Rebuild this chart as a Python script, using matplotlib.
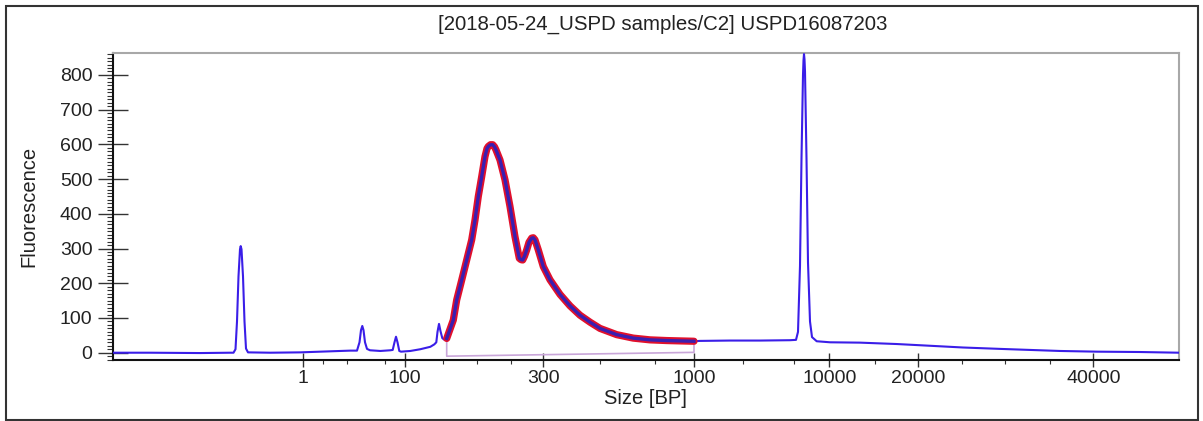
import matplotlib
matplotlib.use("Agg")
import matplotlib.pyplot as plt
import numpy as np
from matplotlib.ticker import FixedLocator
from matplotlib.patches import Rectangle

plt.rcParams['font.family'] = ['Liberation Sans', 'DejaVu Sans']

# ---------------- data ----------------
title = "[2018-05-24_USPD samples/C2] USPD16087203"
x_label = "Size [BP]"
y_label = "Fluorescence"

# x axis: migration position (arbitrary units), labelled with ladder sizes
x_tick_pos = [190, 292, 430, 581, 716, 805, 980]
x_tick_labels = ["1", "100", "300", "1000", "10000", "20000", "40000"]
x_minor_pos = [210, 234, 272, 330, 364, 398, 487, 542, 630, 681, 762, 849, 892, 937]

y_ticks = [0, 100, 200, 300, 400, 500, 600, 700, 800]
y_minor = list(range(-20, 861, 10))

# electropherogram trace: position -> fluorescence
trace_pos = [0.7, 37, 87, 117, 120.2, 122.2, 123.7, 125.2, 126.7, 127.4, 128.2, 129.7, 131.2,
             132.7, 134.7, 157, 187, 217, 237, 243.7, 246.2, 247.7, 249, 250.2, 251.7, 253.7,
             256.7, 267, 277, 279.4, 281.2, 282.7, 284.2, 286, 287.7, 297, 307, 317, 321, 323,
             324.2, 325.7, 327.2, 329, 330.7, 333.4, 340, 343.4, 348.4, 353.4, 358.4, 361.7,
             365, 368.4, 371.7, 373.7, 375, 377.2, 379.4, 381.2, 382.7, 386.7, 391.7, 396.7,
             401.7, 406, 407.7, 409.4, 411.2, 413.4, 415.7, 418.4, 420, 421.7, 425, 430, 436.7,
             446.7, 456.7, 466.7, 476.7, 486.7, 503.4, 520, 536.7, 553.4, 566.7, 580.7,
             586.7, 616.7, 646.7, 676.7, 682.7, 684.7, 686.7, 688.2, 689.7, 690.2, 690.7,
             691.2, 691.7, 693.2, 694.7, 696.7, 698.7, 703.4, 716.7, 746.7,
             783.4, 816.7, 849.7, 886.7, 916.7, 946.7, 983.7, 1026.7, 1065.7]
trace_val = [0, 0, -1, 0, 0, 10, 90, 220, 298, 307, 298, 220, 90,
             12, 1, 0, 1, 4, 6, 6, 30, 65, 77, 65, 30, 11,
             7, 5, 7, 8, 30, 46, 30, 5, 3, 5, 10, 17, 24, 30,
             60, 83, 62, 42, 38, 41, 94, 152, 209, 267, 325, 382,
             450, 507, 565, 588, 594, 599, 599, 593, 584, 555, 498, 421,
             334, 272, 268, 267, 278, 296, 318, 330, 331, 325, 296, 248, 210,
             168, 135, 108, 88, 70, 52, 42, 37, 35, 34, 33,
             34, 35, 35, 36, 37, 60, 250, 560, 800, 842, 860,
             845, 810, 560, 260, 90, 45, 33, 30, 29,
             25, 20, 15, 11, 8, 5, 3, 2, 0]

# selected (integrated) region and its baseline
region = [333.4, 580.7]
region_baseline = [-10, 1]

# ---------------- styles ----------------
W, H = 1203, 421
blue = "#3a1ee8"
red = "#e0102c"
navy = "#3a1fb0"
lavender = "#c9a6d9"
txt = "#222222"

fig = plt.figure(figsize=(W / 100, H / 100), dpi=100)
fig.patch.set_facecolor("white")
ax = fig.add_axes([113.3 / W, (H - 360) / H, (1179 - 113.3) / W, (360 - 52.7) / H])

pos = np.array(trace_pos, dtype=float)
val = np.array(trace_val, dtype=float)

ax.plot(pos, val, color=blue, lw=1.5, zorder=3, solid_joinstyle="round")
mask = (pos >= region[0]) & (pos <= region[1])
ax.plot(pos[mask], val[mask], color=red, lw=5.2, solid_capstyle="round",
        solid_joinstyle="round", zorder=4)
ax.plot(pos[mask], val[mask], color=navy, lw=2.4, solid_joinstyle="round", zorder=5)

# baseline of the region
y_start = np.interp(region[0], pos, val)
y_end = np.interp(region[1], pos, val)
ax.plot([region[0], region[0], region[1], region[1]],
        [y_start, region_baseline[0], region_baseline[1], y_end],
        color=lavender, lw=1.2, zorder=2)

ax.set_xlim(0, 1065.7)
ax.set_ylim(-21, 864)

ax.xaxis.set_major_locator(FixedLocator(x_tick_pos))
ax.set_xticklabels(x_tick_labels)
ax.xaxis.set_minor_locator(FixedLocator(x_minor_pos))
ax.yaxis.set_major_locator(FixedLocator(y_ticks))
ax.set_yticklabels([str(v) for v in y_ticks])
ax.yaxis.set_minor_locator(FixedLocator([v for v in y_minor if v not in y_ticks]))

ax.tick_params(axis="y", which="major", direction="inout", length=22, width=1.0,
               pad=4, labelsize=14, color="#333333", labelcolor=txt)
ax.tick_params(axis="y", which="minor", direction="out", length=4.5, width=0.8, color="#333333")
ax.tick_params(axis="x", which="major", direction="inout", length=9.5, width=1.0,
               pad=2.5, labelsize=14, color="#333333", labelcolor=txt)
ax.tick_params(axis="x", which="minor", direction="out", length=3, width=0.8, color="#333333")

for s in ["left", "bottom"]:
    ax.spines[s].set_color("#111111")
    ax.spines[s].set_linewidth(1.5)
for s in ["top", "right"]:
    ax.spines[s].set_color("#a8a8a8")
    ax.spines[s].set_linewidth(1.5)

fig.text(663 / W, 1 - 24 / H, title, ha="center", va="center", fontsize=14.7, color=txt)
fig.text(29 / W, 1 - 206 / H, y_label, ha="center", va="center", rotation=90, fontsize=14.5, color=txt)
fig.text(645 / W, 1 - 399 / H, x_label, ha="center", va="center", fontsize=14.5, color=txt)

# outer frame
fig.patches.append(Rectangle((5.5 / W, 1 / H), (1198 - 5.5) / W, (415.5 - 1) / H,
                             transform=fig.transFigure, fill=False,
                             edgecolor="#333333", lw=1.5))

fig.savefig("out.png", dpi=100, facecolor="white")
